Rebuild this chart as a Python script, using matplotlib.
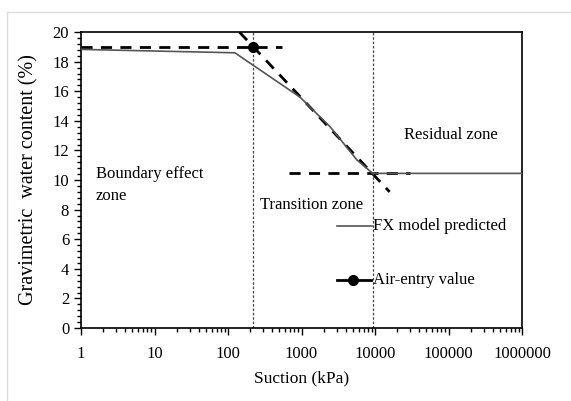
import matplotlib.pyplot as plt
from matplotlib.ticker import MultipleLocator, LogLocator, NullFormatter
from matplotlib.lines import Line2D

# FX model curve (suction kPa, water content %)
suction = [1, 124, 955, 2450, 5700, 9300, 1000000]
water = [18.83, 18.6, 15.6, 13.6, 11.35, 10.45, 10.45]

# construction lines
aev_x, aev_y = 221, 19.0
res_x, res_y = 9300, 10.45
aev_line_x = [1, 540]
res_line_x = [680, 30000]
tangent_x = [143, 15800]
tangent_y = [20.0, 9.2]

xticks = [1, 10, 100, 1000, 10000, 100000, 1000000]
xlabels = ['1', '10', '100', '1000', '10000', '100000', '1000000']

plt.rcParams['font.family'] = ['Liberation Serif', 'DejaVu Serif']

fig = plt.figure(figsize=(5.71, 4.01), dpi=100)
ax = fig.add_axes([0.1419, 0.182, 0.7723, 0.738])

ax.plot(suction, water, color='#555555', lw=1.2, zorder=3)
ax.plot(aev_line_x, [aev_y, aev_y], 'k--', lw=2, dashes=(4, 3))
ax.plot(res_line_x, [res_y, res_y], 'k--', lw=2, dashes=(4, 3))
ax.plot(tangent_x, tangent_y, 'k--', lw=2, dashes=(4, 3))
ax.plot([aev_x], [aev_y], 'ko', ms=7, zorder=4)
ax.axvline(aev_x, color='#444444', ls=(0, (2, 1.5)), lw=0.9)
ax.axvline(res_x, color='#444444', ls=(0, (2, 1.5)), lw=0.9)

ax.set_xscale('log')
ax.set_xlim(1, 1000000)
ax.set_ylim(0, 20)
ax.set_xticks(xticks)
ax.set_xticklabels(xlabels)
ax.xaxis.set_minor_locator(LogLocator(base=10, subs=range(2, 10), numticks=20))
ax.xaxis.set_minor_formatter(NullFormatter())
ax.yaxis.set_major_locator(MultipleLocator(2))
ax.yaxis.set_minor_locator(MultipleLocator(0.4))
ax.tick_params(which='both', direction='out', labelsize=12, width=1)
ax.tick_params(which='major', length=5)
ax.tick_params(which='minor', length=3)
ax.tick_params(axis='x', which='major', pad=8)
for s in ax.spines.values():
    s.set_linewidth(1.2)

ax.set_xlabel('Suction (kPa)', fontsize=12.5, labelpad=6)
ax.set_ylabel('Gravimetric  water content (%)', fontsize=14.5, labelpad=10)

ax.text(1.6, 10.95, 'Boundary effect\nzone', fontsize=12, va='top', linespacing=1.5)
ax.text(270, 8.3, 'Transition zone', fontsize=12, va='center')
ax.text(24800, 13.04, 'Residual zone', fontsize=12, va='center')

# legend-like entries
ax.plot([3040, 9000], [6.9, 6.9], color='#555555', lw=1.2)
ax.text(9300, 6.9, 'FX model predicted', fontsize=12, va='center')
ax.plot([3000, 8800], [3.25, 3.25], 'k-', lw=2)
ax.plot([5030], [3.25], 'ko', ms=7)
ax.text(9300, 3.25, 'Air-entry value', fontsize=12, va='center')

# light frame around the figure
fig.add_artist(Line2D([7/571, 1], [1 - 12/401, 1 - 12/401], color='#dddddd', lw=1))
fig.add_artist(Line2D([7/571, 7/571], [0, 1 - 12/401], color='#dddddd', lw=1))

fig.savefig('out.png', dpi=100)
